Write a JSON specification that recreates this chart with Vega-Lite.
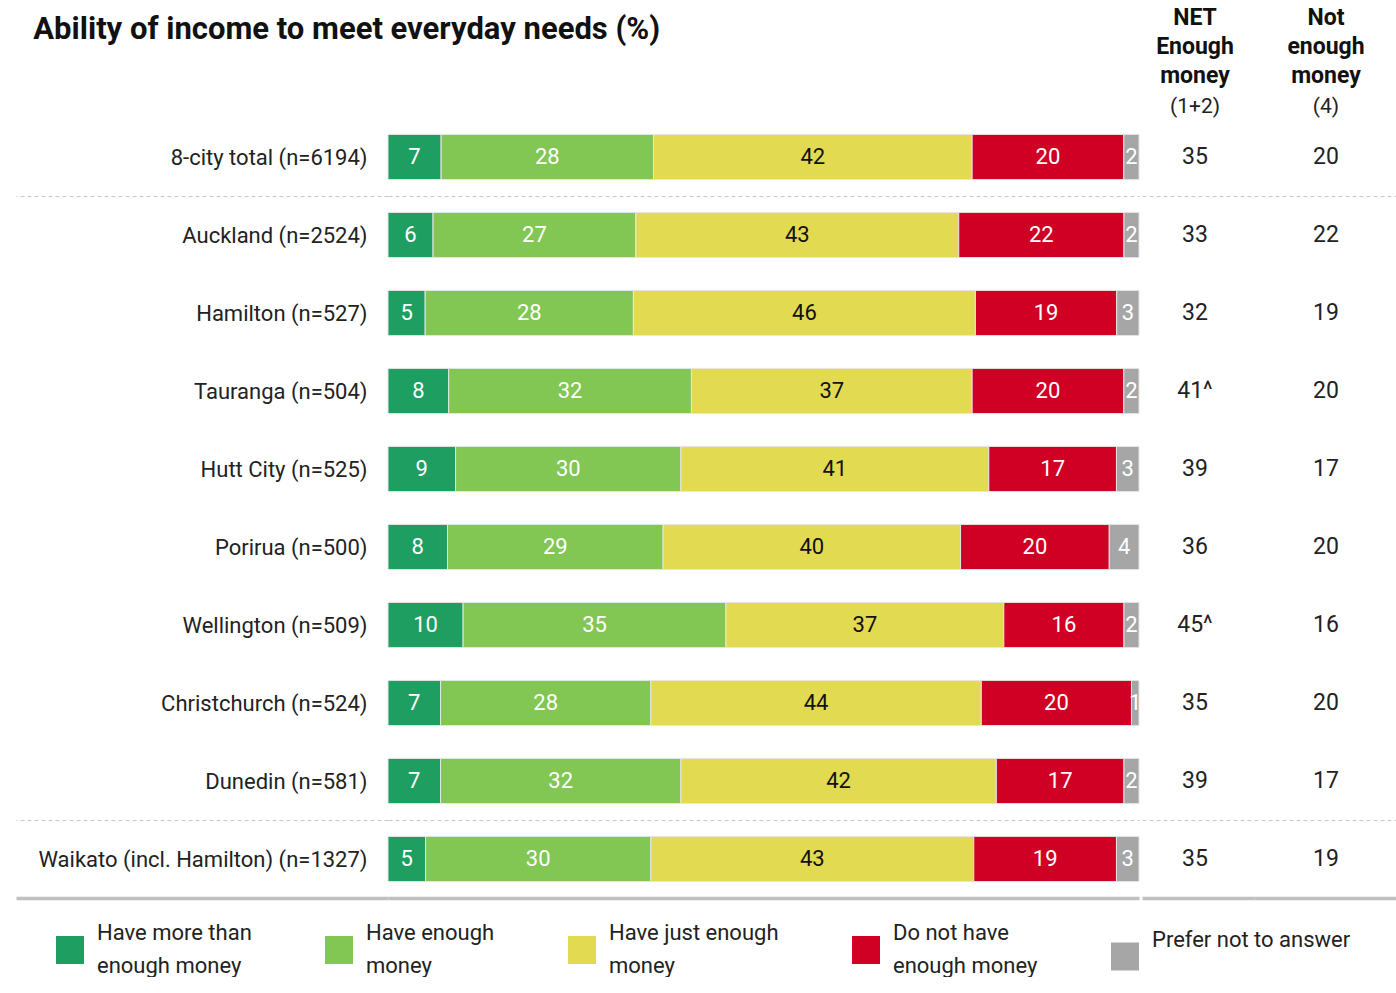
{
  "$schema": "https://vega.github.io/schema/vega-lite/v6.json",
  "padding": {"left": 14, "top": 7, "right": 0, "bottom": 0},
  "background": "white",
  "spacing": 0,
  "config": {
    "font": "Roboto",
    "view": {"stroke": null},
    "legend": {"labelFont": "Roboto"},
    "axis": {"labelFont": "Roboto"},
    "style": {"guide-label": {"lineHeight": 33}}
  },
  "datasets": {
    "bars": [
      {"city": "8-city total (n=6194)", "cat": "Have more than enough money", "k": 1, "value": 7},
      {"city": "8-city total (n=6194)", "cat": "Have enough money", "k": 2, "value": 28},
      {"city": "8-city total (n=6194)", "cat": "Have just enough money", "k": 3, "value": 42},
      {"city": "8-city total (n=6194)", "cat": "Do not have enough money", "k": 4, "value": 20},
      {"city": "8-city total (n=6194)", "cat": "Prefer not to answer", "k": 5, "value": 2},
      {"city": "Auckland (n=2524)", "cat": "Have more than enough money", "k": 1, "value": 6},
      {"city": "Auckland (n=2524)", "cat": "Have enough money", "k": 2, "value": 27},
      {"city": "Auckland (n=2524)", "cat": "Have just enough money", "k": 3, "value": 43},
      {"city": "Auckland (n=2524)", "cat": "Do not have enough money", "k": 4, "value": 22},
      {"city": "Auckland (n=2524)", "cat": "Prefer not to answer", "k": 5, "value": 2},
      {"city": "Hamilton (n=527)", "cat": "Have more than enough money", "k": 1, "value": 5},
      {"city": "Hamilton (n=527)", "cat": "Have enough money", "k": 2, "value": 28},
      {"city": "Hamilton (n=527)", "cat": "Have just enough money", "k": 3, "value": 46},
      {"city": "Hamilton (n=527)", "cat": "Do not have enough money", "k": 4, "value": 19},
      {"city": "Hamilton (n=527)", "cat": "Prefer not to answer", "k": 5, "value": 3},
      {"city": "Tauranga (n=504)", "cat": "Have more than enough money", "k": 1, "value": 8},
      {"city": "Tauranga (n=504)", "cat": "Have enough money", "k": 2, "value": 32},
      {"city": "Tauranga (n=504)", "cat": "Have just enough money", "k": 3, "value": 37},
      {"city": "Tauranga (n=504)", "cat": "Do not have enough money", "k": 4, "value": 20},
      {"city": "Tauranga (n=504)", "cat": "Prefer not to answer", "k": 5, "value": 2},
      {"city": "Hutt City (n=525)", "cat": "Have more than enough money", "k": 1, "value": 9},
      {"city": "Hutt City (n=525)", "cat": "Have enough money", "k": 2, "value": 30},
      {"city": "Hutt City (n=525)", "cat": "Have just enough money", "k": 3, "value": 41},
      {"city": "Hutt City (n=525)", "cat": "Do not have enough money", "k": 4, "value": 17},
      {"city": "Hutt City (n=525)", "cat": "Prefer not to answer", "k": 5, "value": 3},
      {"city": "Porirua (n=500)", "cat": "Have more than enough money", "k": 1, "value": 8},
      {"city": "Porirua (n=500)", "cat": "Have enough money", "k": 2, "value": 29},
      {"city": "Porirua (n=500)", "cat": "Have just enough money", "k": 3, "value": 40},
      {"city": "Porirua (n=500)", "cat": "Do not have enough money", "k": 4, "value": 20},
      {"city": "Porirua (n=500)", "cat": "Prefer not to answer", "k": 5, "value": 4},
      {"city": "Wellington (n=509)", "cat": "Have more than enough money", "k": 1, "value": 10},
      {"city": "Wellington (n=509)", "cat": "Have enough money", "k": 2, "value": 35},
      {"city": "Wellington (n=509)", "cat": "Have just enough money", "k": 3, "value": 37},
      {"city": "Wellington (n=509)", "cat": "Do not have enough money", "k": 4, "value": 16},
      {"city": "Wellington (n=509)", "cat": "Prefer not to answer", "k": 5, "value": 2},
      {"city": "Christchurch (n=524)", "cat": "Have more than enough money", "k": 1, "value": 7},
      {"city": "Christchurch (n=524)", "cat": "Have enough money", "k": 2, "value": 28},
      {"city": "Christchurch (n=524)", "cat": "Have just enough money", "k": 3, "value": 44},
      {"city": "Christchurch (n=524)", "cat": "Do not have enough money", "k": 4, "value": 20},
      {"city": "Christchurch (n=524)", "cat": "Prefer not to answer", "k": 5, "value": 1},
      {"city": "Dunedin (n=581)", "cat": "Have more than enough money", "k": 1, "value": 7},
      {"city": "Dunedin (n=581)", "cat": "Have enough money", "k": 2, "value": 32},
      {"city": "Dunedin (n=581)", "cat": "Have just enough money", "k": 3, "value": 42},
      {"city": "Dunedin (n=581)", "cat": "Do not have enough money", "k": 4, "value": 17},
      {"city": "Dunedin (n=581)", "cat": "Prefer not to answer", "k": 5, "value": 2},
      {"city": "Waikato (incl. Hamilton) (n=1327)", "cat": "Have more than enough money", "k": 1, "value": 5},
      {"city": "Waikato (incl. Hamilton) (n=1327)", "cat": "Have enough money", "k": 2, "value": 30},
      {"city": "Waikato (incl. Hamilton) (n=1327)", "cat": "Have just enough money", "k": 3, "value": 43},
      {"city": "Waikato (incl. Hamilton) (n=1327)", "cat": "Do not have enough money", "k": 4, "value": 19},
      {"city": "Waikato (incl. Hamilton) (n=1327)", "cat": "Prefer not to answer", "k": 5, "value": 3}
    ],
    "cols": [
      {"city": "8-city total (n=6194)", "net": "35", "notenough": "20"},
      {"city": "Auckland (n=2524)", "net": "33", "notenough": "22"},
      {"city": "Hamilton (n=527)", "net": "32", "notenough": "19"},
      {"city": "Tauranga (n=504)", "net": "41^", "notenough": "20"},
      {"city": "Hutt City (n=525)", "net": "39", "notenough": "17"},
      {"city": "Porirua (n=500)", "net": "36", "notenough": "20"},
      {"city": "Wellington (n=509)", "net": "45^", "notenough": "16"},
      {"city": "Christchurch (n=524)", "net": "35", "notenough": "20"},
      {"city": "Dunedin (n=581)", "net": "39", "notenough": "17"},
      {"city": "Waikato (incl. Hamilton) (n=1327)", "net": "35", "notenough": "19"}
    ]
  },
  "hconcat": [
    {
      "width": 751,
      "height": 780,
      "data": {"name": "bars"},
      "title": {"text": "Ability of income to meet everyday needs (%)", "anchor": "start", "frame": "bounds", "fontSize": 31, "fontWeight": "bold", "color": "#111111", "offset": 72, "dx": 19},
      "encoding": {
        "y": {
          "field": "city", "type": "nominal",
          "sort": ["8-city total (n=6194)", "Auckland (n=2524)", "Hamilton (n=527)", "Tauranga (n=504)", "Hutt City (n=525)", "Porirua (n=500)", "Wellington (n=509)", "Christchurch (n=524)", "Dunedin (n=581)", "Waikato (incl. Hamilton) (n=1327)"],
          "scale": {"paddingInner": 0.42, "paddingOuter": 0.21},
          "axis": {
            "title": null, "domain": false,
            "labelFontSize": 22, "labelColor": "#222222", "labelLimit": 600,
            "tickSize": 372, "labelPadding": -351,
            "tickOffset": 39, "labelOffset": -39,
            "tickOpacity": {"condition": {"test": "datum.value === '8-city total (n=6194)' || datum.value === 'Dunedin (n=581)' || datum.value === 'Waikato (incl. Hamilton) (n=1327)'", "value": 1}, "value": 0},
            "tickColor": {"condition": {"test": "datum.value === 'Waikato (incl. Hamilton) (n=1327)'", "value": "#c0c0c0"}, "value": "#c8c8c8"},
            "tickWidth": {"condition": {"test": "datum.value === 'Waikato (incl. Hamilton) (n=1327)'", "value": 3.5}, "value": 1},
            "tickDash": {"condition": {"test": "datum.value === 'Waikato (incl. Hamilton) (n=1327)'", "value": []}, "value": [4, 3]},
            "grid": true,
            "gridOpacity": {"condition": {"test": "datum.value === '8-city total (n=6194)' || datum.value === 'Dunedin (n=581)' || datum.value === 'Waikato (incl. Hamilton) (n=1327)'", "value": 1}, "value": 0},
            "gridColor": {"condition": {"test": "datum.value === 'Waikato (incl. Hamilton) (n=1327)'", "value": "#c0c0c0"}, "value": "#c8c8c8"},
            "gridWidth": {"condition": {"test": "datum.value === 'Waikato (incl. Hamilton) (n=1327)'", "value": 3.5}, "value": 1},
            "gridDash": {"condition": {"test": "datum.value === 'Waikato (incl. Hamilton) (n=1327)'", "value": []}, "value": [4, 3]}
          }
        }
      },
      "layer": [
        {
          "mark": {"type": "bar", "stroke": "#e6e6e6", "strokeWidth": 1},
          "encoding": {
            "x": {"field": "value", "type": "quantitative", "stack": "normalize", "axis": null, "scale": {"nice": false}},
            "color": {
              "field": "cat", "type": "nominal",
              "scale": {
                "domain": ["Have more than enough money", "Have enough money", "Have just enough money", "Do not have enough money", "Prefer not to answer"],
                "range": ["#1f9e62", "#82c653", "#e2db52", "#d00024", "#a6a6a6"]
              },
              "legend": {
                "orient": "none", "legendX": -332, "legendY": 818,
                "direction": "horizontal", "columns": 5, "title": null,
                "symbolType": "square", "symbolSize": 784, "symbolStrokeWidth": 0,
                "labelFontSize": 22, "labelColor": "#222222", "labelOffset": 13, "labelLimit": 400,
                "labelBaseline": "line-bottom",
                "columnPadding": 73,
                "labelExpr": "datum.label == 'Have more than enough money' ? ['Have more than', 'enough money'] : datum.label == 'Have enough money' ? ['Have enough', 'money'] : datum.label == 'Have just enough money' ? ['Have just enough', 'money'] : datum.label == 'Do not have enough money' ? ['Do not have', 'enough money'] : datum.label"
              }
            },
            "order": {"field": "k", "type": "quantitative"}
          }
        },
        {
          "mark": {"type": "text", "fontSize": 22},
          "encoding": {
            "x": {"field": "value", "type": "quantitative", "stack": "normalize", "bandPosition": 0.5},
            "detail": {"field": "cat", "type": "nominal"},
            "order": {"field": "k", "type": "quantitative"},
            "text": {"field": "value", "type": "quantitative"},
            "color": {"condition": {"test": "datum.cat === 'Have just enough money'", "value": "#111111"}, "value": "white"}
          }
        }
      ]
    },
    {
      "width": 112,
      "height": 780,
      "data": {"name": "cols"},
      "title": {"text": ["NET", "Enough", "money"], "subtitle": "(1+2)", "anchor": "middle", "dx": -3, "fontSize": 23, "fontWeight": "bold", "lineHeight": 29, "color": "#111111", "subtitleFontSize": 21, "subtitleColor": "#222222", "subtitlePadding": 8, "offset": 1},
      "mark": {"type": "text", "fontSize": 23, "color": "#222222", "dx": -3},
      "encoding": {
        "y": {
          "field": "city", "type": "nominal",
          "sort": ["8-city total (n=6194)", "Auckland (n=2524)", "Hamilton (n=527)", "Tauranga (n=504)", "Hutt City (n=525)", "Porirua (n=500)", "Wellington (n=509)", "Christchurch (n=524)", "Dunedin (n=581)", "Waikato (incl. Hamilton) (n=1327)"],
          "scale": {"paddingInner": 0.42, "paddingOuter": 0.21},
          "axis": {
            "title": null, "domain": false, "labels": false, "ticks": false,
            "tickOffset": 39,
            "grid": true,
            "gridOpacity": {"condition": {"test": "datum.value === '8-city total (n=6194)' || datum.value === 'Dunedin (n=581)' || datum.value === 'Waikato (incl. Hamilton) (n=1327)'", "value": 1}, "value": 0},
            "gridColor": {"condition": {"test": "datum.value === 'Waikato (incl. Hamilton) (n=1327)'", "value": "#c0c0c0"}, "value": "#c8c8c8"},
            "gridWidth": {"condition": {"test": "datum.value === 'Waikato (incl. Hamilton) (n=1327)'", "value": 3.5}, "value": 1},
            "gridDash": {"condition": {"test": "datum.value === 'Waikato (incl. Hamilton) (n=1327)'", "value": []}, "value": [4, 3]}
          }
        },
        "text": {"field": "net", "type": "nominal"}
      }
    },
    {
      "width": 144,
      "height": 780,
      "data": {"name": "cols"},
      "title": {"text": ["Not", "enough", "money"], "subtitle": "(4)", "anchor": "middle", "fontSize": 23, "fontWeight": "bold", "lineHeight": 29, "color": "#111111", "subtitleFontSize": 21, "subtitleColor": "#222222", "subtitlePadding": 8, "offset": 1},
      "mark": {"type": "text", "fontSize": 23, "color": "#222222"},
      "encoding": {
        "y": {
          "field": "city", "type": "nominal",
          "sort": ["8-city total (n=6194)", "Auckland (n=2524)", "Hamilton (n=527)", "Tauranga (n=504)", "Hutt City (n=525)", "Porirua (n=500)", "Wellington (n=509)", "Christchurch (n=524)", "Dunedin (n=581)", "Waikato (incl. Hamilton) (n=1327)"],
          "scale": {"paddingInner": 0.42, "paddingOuter": 0.21},
          "axis": {
            "title": null, "domain": false, "labels": false, "ticks": false,
            "tickOffset": 39,
            "grid": true,
            "gridOpacity": {"condition": {"test": "datum.value === '8-city total (n=6194)' || datum.value === 'Dunedin (n=581)' || datum.value === 'Waikato (incl. Hamilton) (n=1327)'", "value": 1}, "value": 0},
            "gridColor": {"condition": {"test": "datum.value === 'Waikato (incl. Hamilton) (n=1327)'", "value": "#c0c0c0"}, "value": "#c8c8c8"},
            "gridWidth": {"condition": {"test": "datum.value === 'Waikato (incl. Hamilton) (n=1327)'", "value": 3.5}, "value": 1},
            "gridDash": {"condition": {"test": "datum.value === 'Waikato (incl. Hamilton) (n=1327)'", "value": []}, "value": [4, 3]}
          }
        },
        "text": {"field": "notenough", "type": "nominal"}
      }
    }
  ]
}
